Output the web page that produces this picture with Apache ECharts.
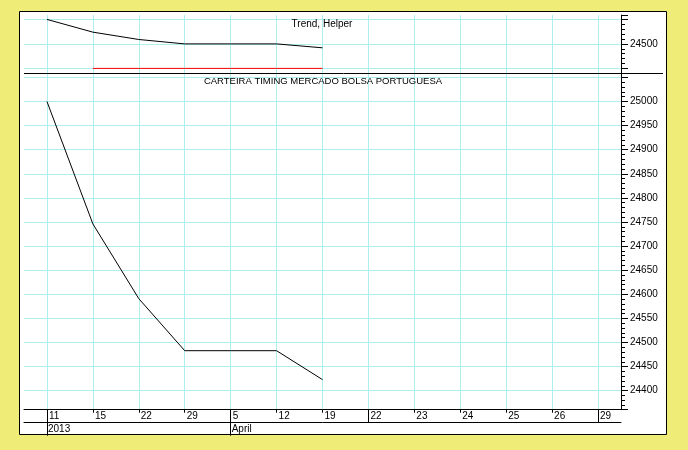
<!DOCTYPE html>
<html><head><meta charset="utf-8">
<script src="https://cdn.jsdelivr.net/npm/echarts@6/dist/echarts.min.js"></script>
<style>html,body{margin:0;padding:0;background:#EFEC78}#c{width:688px;height:450px}</style>
</head><body><div id="c"></div>
<script>
const categories = ['11','15','22','29','5','12','19','22','23','24','25','26','29'];
const periodLabels = ['2013','','','','April','','','','','','','',''];
const periodTickIdx = [0,4];
const fullTickIdx = [0,4,7,12];
const trend = [24550,24524,24509,24500,24500,24500,24492,null,null,null,null,null,null];
const helper = [null,24450,24450,24450,24450,24450,24450,null,null,null,null,null,null];
const portfolio = [25000,24746,24591,24483,24483,24483,24423,null,null,null,null,null,null];
const topTickLabels = [24500];
const mainTickLabels = [24400,24450,24500,24550,24600,24650,24700,24750,24800,24850,24900,24950,25000];
const topRange = [24440, 24559];
const mainRange = [24360.6, 25058.5];

const FONT = 'Liberation Sans';
const GRID_C = '#AFEEEE';
const chart = echarts.init(document.getElementById('c'), null, {renderer:'canvas'});

function yAxis(gi, range, split, labels){
  return {
    gridIndex: gi, type:'value', position:'right', min: range[0], max: range[1], splitNumber: split,
    axisLine:{show:true, lineStyle:{color:'#000', width:1}},
    axisTick:{show:true, length:7, lineStyle:{color:'#000'}},
    minorTick:{show:true, splitNumber:5, length:4, lineStyle:{color:'#000'}},
    splitLine:{show:true, showMinLine:false, showMaxLine:false, lineStyle:{color:GRID_C, width:1}},
    axisLabel:{show:true, margin:9, showMinLabel:false, showMaxLabel:false, color:'#000',
      fontFamily:FONT, fontSize:10,
      formatter: v => labels.includes(Math.round(v)) ? String(Math.round(v)) : ''}
  };
}

const option = {
  backgroundColor:'#EFEC78',
  animation:false,
  title:[
    {text:'Trend, Helper', left:322, top:19, padding:0, textAlign:'center',
     textStyle:{fontFamily:FONT, fontSize:10, fontWeight:'normal', color:'#000'}},
    {text:'CARTEIRA TIMING MERCADO BOLSA PORTUGUESA', left:323, top:76.5, padding:0, textAlign:'center',
     textStyle:{fontFamily:FONT, fontSize:9.5, fontWeight:'normal', color:'#000'}}
  ],
  graphic:[
    {type:'rect', z:-10, silent:true, shape:{x:19.5, y:11.5, width:647, height:423},
     style:{fill:'#fff', stroke:'#000', lineWidth:1}},
    {type:'line', z:100, silent:true, shape:{x1:24, y1:73.5, x2:663, y2:73.5},
     style:{stroke:'#000', lineWidth:1}}
  ],
  grid:[
    {left:24, right:67, top:15, height:58.3},
    {left:24, right:67, top:73.3, bottom:40.3}
  ],
  xAxis:[
    {gridIndex:0, type:'category', data:categories, boundaryGap:true,
     axisLine:{show:false, onZero:false}, axisTick:{show:false}, axisLabel:{show:false},
     splitLine:{show:true, alignWithLabel:true, interval:0, lineStyle:{color:GRID_C, width:1}}},
    {gridIndex:1, type:'category', data:categories, boundaryGap:true, position:'bottom',
     axisLine:{show:true, onZero:false, lineStyle:{color:'#000', width:1}},
     axisTick:{show:true, alignWithLabel:true, interval:0, length:3, lineStyle:{color:'#000'}},
     axisLabel:{show:true, interval:0, align:'left', margin:2, padding:[0,0,0,2], color:'#000',
       fontFamily:FONT, fontSize:10, lineHeight:10},
     splitLine:{show:true, alignWithLabel:true, interval:0, lineStyle:{color:GRID_C, width:1}}},
    {gridIndex:1, type:'category', data:categories, boundaryGap:true, position:'bottom',
     axisLine:{show:false, onZero:false},
     axisTick:{show:true, alignWithLabel:true, length:13, lineStyle:{color:'#000'},
       interval:(i)=>fullTickIdx.includes(i)},
     axisLabel:{show:false}, splitLine:{show:false}},
    {gridIndex:1, type:'category', data:categories, boundaryGap:true, position:'bottom', offset:13,
     axisLine:{show:true, onZero:false, lineStyle:{color:'#000', width:1}},
     axisTick:{show:true, alignWithLabel:true, length:13, lineStyle:{color:'#000'},
       interval:(i)=>periodTickIdx.includes(i)},
     axisLabel:{show:true, interval:0, align:'left', margin:2, padding:[0,0,0,1], color:'#000',
       fontFamily:FONT, fontSize:10, lineHeight:10, formatter:(v,i)=>periodLabels[i]},
     splitLine:{show:false}}
  ],
  yAxis:[
    yAxis(0, topRange, 2, topTickLabels),
    yAxis(1, mainRange, 14, mainTickLabels)
  ],
  series:[
    {name:'Trend', type:'line', xAxisIndex:0, yAxisIndex:0, data:trend, symbol:'none',
     lineStyle:{color:'#000', width:1}, z:5},
    {name:'Helper', type:'line', xAxisIndex:0, yAxisIndex:0, data:helper, symbol:'none',
     lineStyle:{color:'#FF0000', width:1}, z:4},
    {name:'Portfolio', type:'line', xAxisIndex:1, yAxisIndex:1, data:portfolio, symbol:'none',
     lineStyle:{color:'#000', width:1}, z:5}
  ]
};
chart.setOption(option);
</script></body></html>
